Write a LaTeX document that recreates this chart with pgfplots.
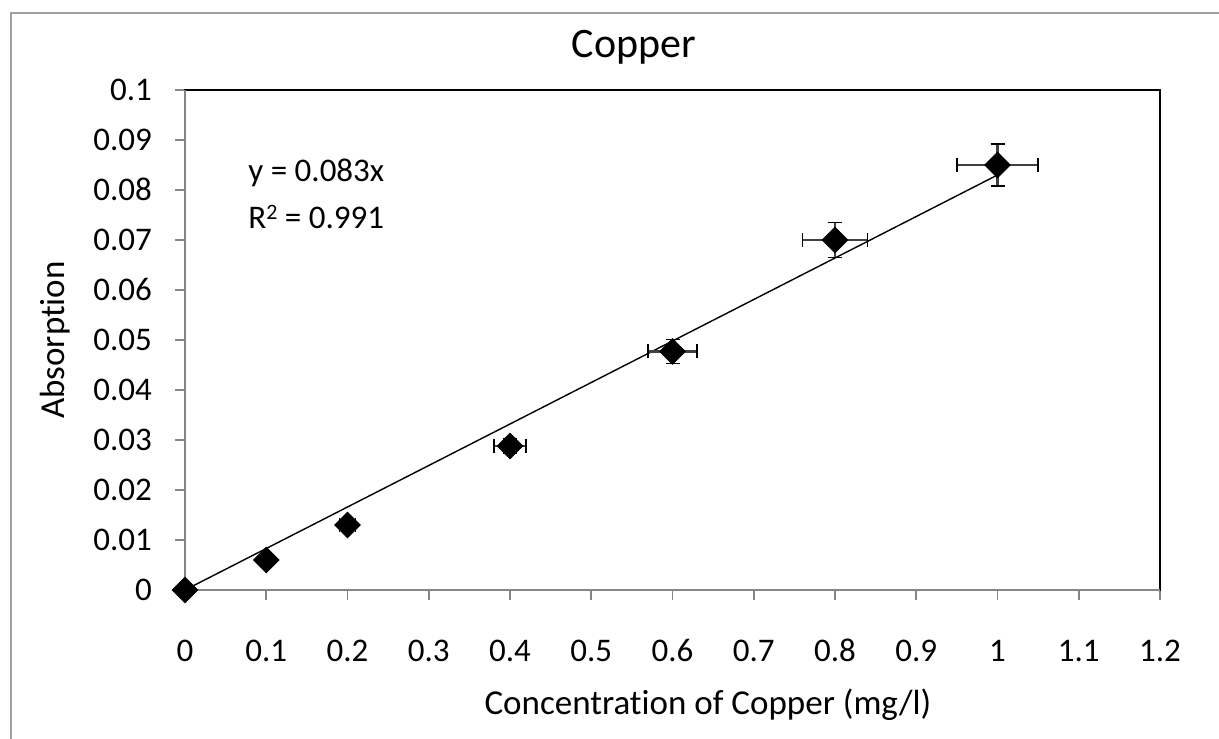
\documentclass[border=0pt]{standalone}
\usepackage{pgfplots}
\pgfplotsset{compat=1.18}
\usepackage{fontspec}
\setmainfont{Carlito}[Ligatures={NoCommon}]
\definecolor{axgray}{RGB}{134,134,134}
\definecolor{framegray}{RGB}{160,160,160}
\begin{document}
\begin{tikzpicture}[x=1pt,y=1pt]
\path[use as bounding box] (0,0) rectangle (609.5,369);
\fill[white] (0,0) rectangle (609.5,369);
\draw[framegray, line width=1.1pt] (5.5,-10) -- (5.5,362.5) -- (620,362.5);
\begin{axis}[
  at={(92.5pt,74pt)}, anchor=south west,
  scale only axis, width=487.5pt, height=250pt,
  xmin=0, xmax=1.2, ymin=0, ymax=0.1,
  xtick={0,0.1,...,1.2}, ytick={0,0.01,...,0.1},
  xticklabels={0,0.1,0.2,0.3,0.4,0.5,0.6,0.7,0.8,0.9,1,1.1,1.2},
  yticklabels={0,0.01,0.02,0.03,0.04,0.05,0.06,0.07,0.08,0.09,0.1},
  xtick pos=lower, ytick pos=left,
  tick align=outside, major tick length=5pt,
  tick style={axgray, line width=0.8pt},
  axis line style={black, line width=0.8pt},
  ticklabel style={font=\fontsize{16.5}{19}\selectfont},
  typeset ticklabels with strut,
  /pgf/number format/assume math mode=true,
  yticklabel style={xshift=-8pt, yshift=-1.5pt},
  xticklabel style={yshift=-14pt},
  clip=false,
]
\addplot[black, line width=0.7pt, forget plot] coordinates {(0,0) (1,0.083)};
\addplot[only marks, mark=square*, mark size=4.5pt,
  mark options={rotate=45, fill=black, draw=black},
  error bars/.cd, x dir=both, x explicit, y dir=both, y explicit,
  error bar style={black!75, line width=1.2pt},
  error mark options={black, line width=0.8pt, mark size=3.5pt, rotate=90}]
coordinates {
  (0,0) +- (0,0)
  (0.1,0.006) +- (0.005,0.0003)
  (0.2,0.013) +- (0.01,0.00065)
  (0.4,0.0288) +- (0.02,0.00144)
  (0.6,0.0477) +- (0.03,0.0024)
  (0.8,0.070) +- (0.04,0.0035)
  (1.0,0.085) +- (0.05,0.00425)
};
\draw[axgray, line width=0.8pt] (rel axis cs:0,1) -- (rel axis cs:0,0) -- (rel axis cs:1,0);
\end{axis}
\node[font=\fontsize{21}{25}\selectfont] at (317,345.5) {Copper};
\node[font=\fontsize{17.5}{21}\selectfont] at (354,16.5) {Concentration of Copper (mg/l)};
\node[font=\fontsize{17.5}{21}\selectfont, rotate=90] at (27.5,199) {Absorption};
\node[font=\fontsize{16.5}{19}\selectfont, anchor=west, inner sep=0pt] at (124,282.5) {y = 0.083x};
\node[font=\fontsize{16.5}{19}\selectfont, anchor=west, inner sep=0pt] at (124,260.5) {R\raisebox{0.3em}{\fontsize{11}{11}\selectfont 2} = 0.991};
\end{tikzpicture}
\end{document}
